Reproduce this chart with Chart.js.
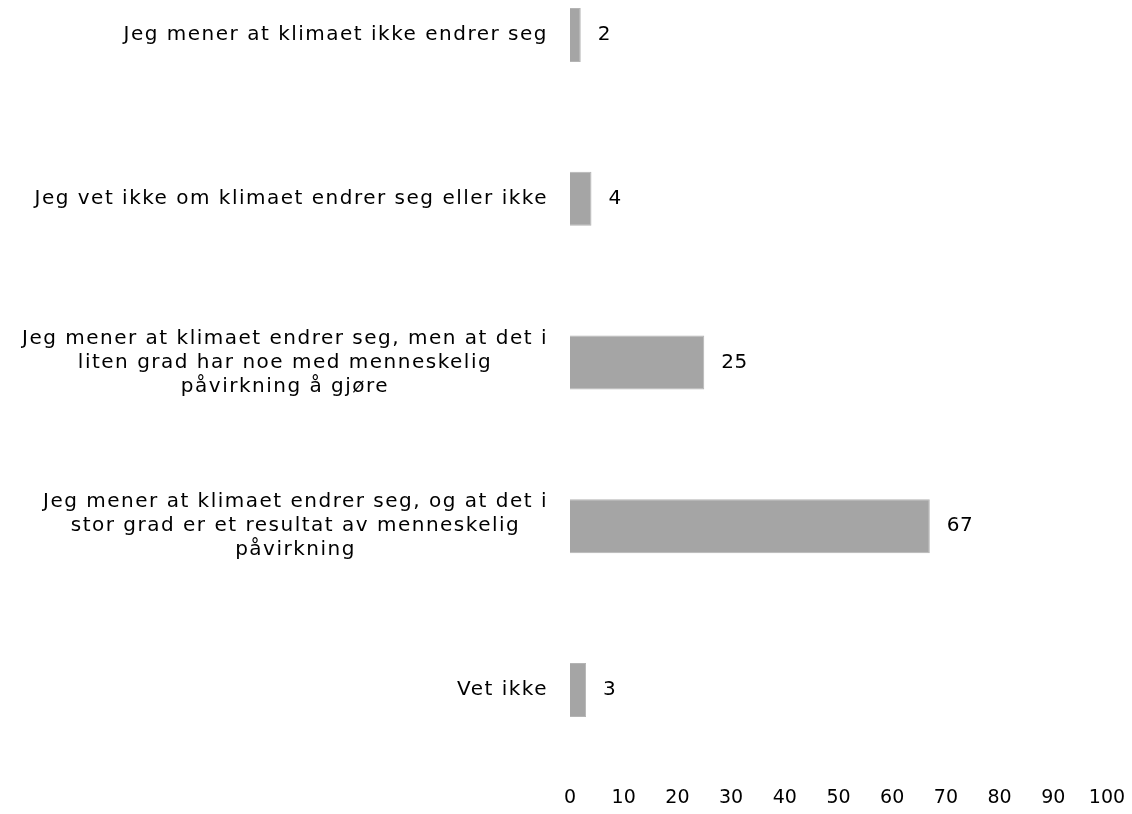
<!DOCTYPE html>
<html>
<head>
<meta charset="utf-8">
<script src="https://cdn.jsdelivr.net/npm/chart.js@4/dist/chart.umd.min.js"></script>
<style>
  html, body { margin: 0; padding: 0; background: #ffffff; }
  #wrap { width: 1132px; height: 814px; position: relative; }
</style>
</head>
<body>
<div id="wrap"><canvas id="c"></canvas></div>
<script>
const categories = [
  "Jeg mener at klimaet ikke endrer seg",
  "Jeg vet ikke om klimaet endrer seg eller ikke",
  ["Jeg mener at klimaet endrer seg, men at det i", "liten grad har noe med menneskelig", "påvirkning å gjøre"],
  ["Jeg mener at klimaet endrer seg, og at det i", "stor grad er et resultat av menneskelig", "påvirkning"],
  "Vet ikke"
];
const values = [2, 4, 25, 67, 3];
const xTicks = [0, 10, 20, 30, 40, 50, 60, 70, 80, 90, 100];

const FONT_FAMILY = '"DejaVu Sans", sans-serif';
const FONT_SIZE = 20;
const LETTER_SPACING = '1.5px';
const LINE_H = 24;
const TEXT_COLOR = '#000000';

const labelPlugin = {
  id: 'customLabels',
  afterDatasetsDraw(chart) {
    const { ctx, chartArea } = chart;
    const yScale = chart.scales.y;
    const xScale = chart.scales.x;
    ctx.save();
    ctx.font = FONT_SIZE + 'px ' + FONT_FAMILY;
    if ('letterSpacing' in ctx) ctx.letterSpacing = LETTER_SPACING;
    ctx.fillStyle = TEXT_COLOR;
    ctx.textBaseline = 'middle';
    categories.forEach((lab, i) => {
      const lines = Array.isArray(lab) ? lab : [lab];
      const widest = Math.max(...lines.map(l => ctx.measureText(l).width));
      const right = chartArea.left - 22;
      const cx = right - widest / 2;
      const cy = yScale.getPixelForValue(i);
      ctx.textAlign = 'center';
      lines.forEach((l, j) => {
        ctx.fillText(l, cx, cy + (j - (lines.length - 1) / 2) * LINE_H);
      });
    });
    ctx.textAlign = 'left';
    if ('letterSpacing' in ctx) ctx.letterSpacing = '0.5px';
    values.forEach((v, i) => {
      const x = xScale.getPixelForValue(v) + 17;
      const y = yScale.getPixelForValue(i);
      ctx.fillText(String(v), x, y);
    });
    ctx.restore();
  }
};

new Chart(document.getElementById('c'), {
  type: 'bar',
  data: {
    labels: categories,
    datasets: [{
      data: values,
      backgroundColor: '#a5a5a5',
      borderColor: '#b4b4b4',
      borderWidth: 1,
      categoryPercentage: 1.0,
      barPercentage: 0.33,
      clip: false
    }]
  },
  options: {
    indexAxis: 'y',
    responsive: true,
    maintainAspectRatio: false,
    animation: false,
    layout: { padding: { left: 570, right: 25, top: 35, bottom: 2 } },
    plugins: {
      legend: { display: false },
      tooltip: { enabled: false }
    },
    scales: {
      y: {
        display: false,
        offset: false
      },
      x: {
        min: 0,
        max: 100,
        afterBuildTicks(scale) { scale.ticks = xTicks.map(v => ({ value: v })); },
        afterFit(scale) {
          scale.height = 122;
          scale.paddingLeft = 0;
          scale.paddingRight = 0;
        },
        grid: { display: false, drawTicks: false },
        border: { display: false },
        ticks: {
          padding: 97,
          color: TEXT_COLOR,
          font: { family: FONT_FAMILY, size: 19 },
          maxRotation: 0,
          autoSkip: false
        }
      }
    }
  },
  plugins: [labelPlugin]
});
</script>
</body>
</html>
